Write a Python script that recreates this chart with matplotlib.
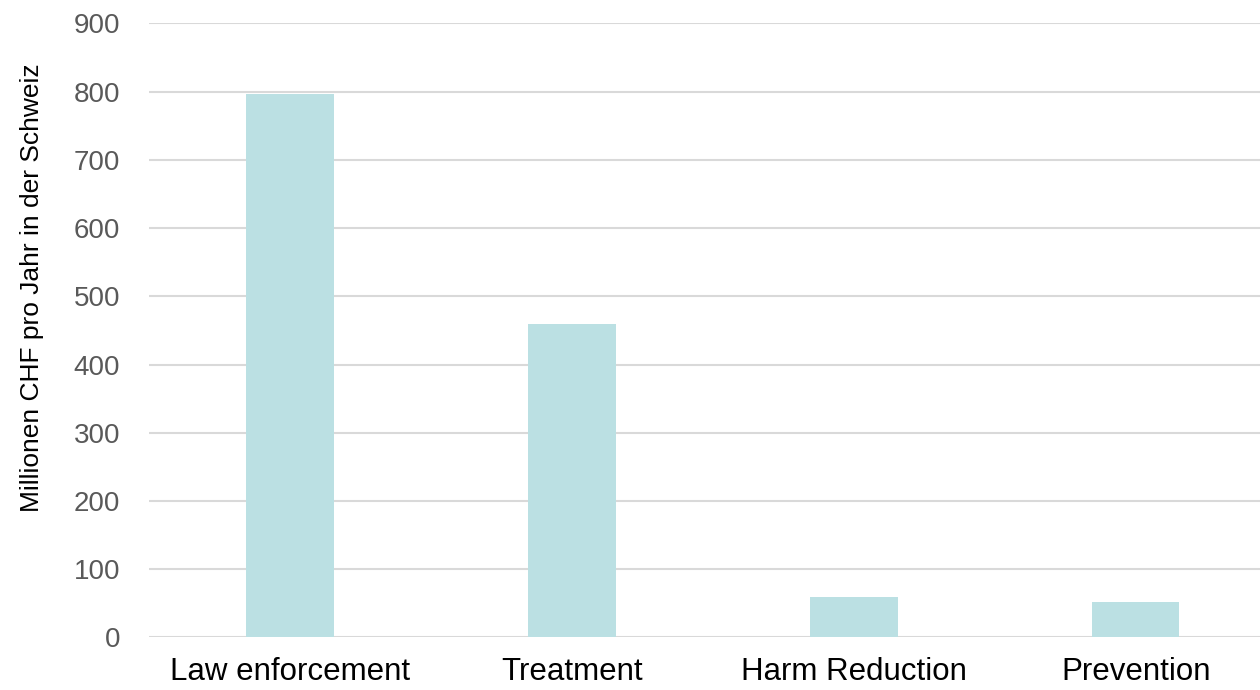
import matplotlib.pyplot as plt

plt.rcParams['font.family'] = ['Liberation Sans', 'DejaVu Sans']

categories = ['Law enforcement', 'Treatment', 'Harm Reduction', 'Prevention']
costs = [797, 460, 60, 52]
y_ticks = [0, 100, 200, 300, 400, 500, 600, 700, 800, 900]

fig = plt.figure(figsize=(12.6, 6.9), dpi=100)
ax = fig.add_axes([0.1183, 0.0761, 0.895, 0.890])

x = range(len(categories))
ax.bar(x, costs, width=0.31, color='#bbe0e3', zorder=2)

ax.set_xlim(-0.5, len(categories) - 0.5)
ax.set_ylim(0, 900)
ax.set_yticks(y_ticks)
ax.set_xticks(list(x))
ax.set_xticklabels(categories, fontsize=22.5, color='black')
ax.tick_params(axis='y', labelsize=20, labelcolor='#595959', length=0, pad=21)
ax.tick_params(axis='x', length=0, pad=14)

ax.yaxis.grid(True, color='#d9d9d9', linewidth=1.5, zorder=0)
ax.set_axisbelow(True)
for side in ['top', 'right', 'left', 'bottom']:
    ax.spines[side].set_visible(False)

ax.set_ylabel('Millionen CHF pro Jahr in der Schweiz', fontsize=19, color='black')
ax.yaxis.set_label_coords(-0.093, 0.569)

fig.savefig('out.png', dpi=100)
